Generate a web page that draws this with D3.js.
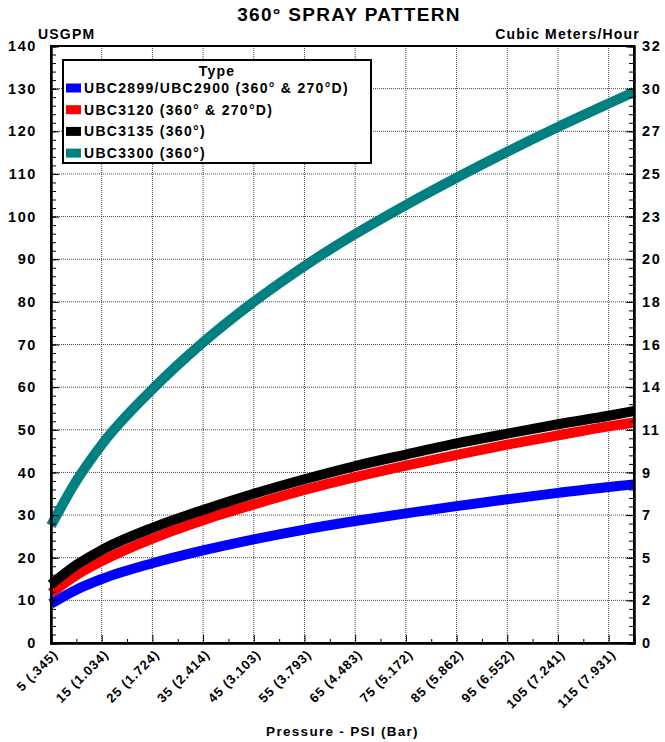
<!DOCTYPE html>
<html>
<head>
<meta charset="utf-8">
<script src="https://cdn.jsdelivr.net/npm/d3@7"></script>
<style>
  body { margin: 0; background: #fff; }
  svg text { font-family: "Liberation Sans", Arial, Helvetica, sans-serif; font-weight: bold; fill: #000; }
  .grid line { stroke: #444; stroke-width: 1; stroke-dasharray: 1,1; }
  .axis path, .axis line { stroke: #000; }
</style>
</head>
<body>
<div id="chart"></div>
<script>
/******************************************************************************/
/*  Data                                                                      */
/******************************************************************************/

// pressure in PSI, flow in USGPM
var pressure = [5, 10, 15, 25, 35, 45, 55, 65, 75, 85, 95, 105, 115, 120];
var ubc2899  = [9.2, 12.5, 15.0, 18.7, 21.7, 24.3, 26.6, 28.6, 30.4, 32.1, 33.7, 35.2, 36.6, 37.2];
var ubc3120  = [11.7, 15.9, 19.2, 24.5, 28.8, 32.5, 35.9, 38.9, 41.6, 44.1, 46.5, 48.7, 50.8, 51.7];
var ubc3135  = [13.7, 18.3, 21.8, 27.0, 31.2, 35.0, 38.4, 41.5, 44.2, 46.8, 49.1, 51.3, 53.3, 54.4];
var ubc3300  = [27.5, 38.0, 46.5, 59.5, 70.5, 80.0, 88.4, 95.9, 102.7, 109.1, 115.2, 121.0, 126.5, 129.2];

var seriesNames  = ['UBC2899/UBC2900 (360° & 270°D)', 'UBC3120 (360° & 270°D)', 'UBC3135 (360°)', 'UBC3300 (360°)'];
var seriesColors = ['#0000ff', '#ff0000', '#000000', '#008080'];

var xTicks      = [5, 15, 25, 35, 45, 55, 65, 75, 85, 95, 105, 115];
var xTickLabels = ['5 (.345)', '15 (1.034)', '25 (1.724)', '35 (2.414)', '45 (3.103)', '55 (3.793)',
                   '65 (4.483)', '75 (5.172)', '85 (5.862)', '95 (6.552)', '105 (7.241)', '115 (7.931)'];
var yTicks       = [0, 10, 20, 30, 40, 50, 60, 70, 80, 90, 100, 110, 120, 130, 140];
var yRightLabels = ['0', '2', '5', '7', '9', '11', '14', '16', '18', '20', '23', '25', '27', '30', '32'];

/******************************************************************************/
/*  Chart                                                                     */
/******************************************************************************/

var W = 665, H = 742;
var m = {left: 51, top: 46, right: 31, bottom: 99};
var w = W - m.left - m.right,
    h = H - m.top - m.bottom;

var svg = d3.select('#chart').append('svg')
    .attr('width', W)
    .attr('height', H);

var x = d3.scaleLinear().domain([5, 120]).range([0, w]);
var y = d3.scaleLinear().domain([0, 140]).range([h, 0]);

var g = svg.append('g').attr('transform', 'translate(' + m.left + ',' + m.top + ')');

// Grid
g.append('g').attr('class', 'grid')
  .selectAll('line').data(xTicks.slice(1))
  .enter().append('line')
    .attr('x1', function(d){ return x(d); })
    .attr('x2', function(d){ return x(d); })
    .attr('y1', 0).attr('y2', h);

g.append('g').attr('class', 'grid')
  .selectAll('line').data(yTicks.slice(1, -1))
  .enter().append('line')
    .attr('y1', function(d){ return y(d); })
    .attr('y2', function(d){ return y(d); })
    .attr('x1', 0).attr('x2', w);

// Curves
var allSeries = [ubc2899, ubc3120, ubc3135, ubc3300];
var line = d3.line()
    .x(function(d, i){ return x(pressure[i]); })
    .y(function(d){ return y(d); })
    .curve(d3.curveMonotoneX);

g.selectAll('path.flow').data(allSeries)
  .enter().append('path')
    .attr('class', 'flow')
    .attr('d', line)
    .attr('fill', 'none')
    .attr('stroke', function(d, i){ return seriesColors[i]; })
    .attr('stroke-width', 10);

// Axes (ticks point inward)
var minorY = d3.range(0, 141, 2);
var minorX = d3.range(10, 121, 10);

g.append('g').attr('class', 'axis')
  .call(d3.axisLeft(y).tickValues(minorY).tickSize(-5).tickFormat(''));
g.append('g').attr('class', 'axis')
  .call(d3.axisLeft(y).tickValues(yTicks).tickSize(-8).tickPadding(14))
  .selectAll('text')
    .style('font-size', '14.5px')
    .style('letter-spacing', '1.6px');

g.append('g').attr('class', 'axis')
  .attr('transform', 'translate(' + w + ',0)')
  .call(d3.axisRight(y).tickValues(minorY).tickSize(-5).tickFormat(''));
g.append('g').attr('class', 'axis')
  .attr('transform', 'translate(' + w + ',0)')
  .call(d3.axisRight(y).tickValues(yTicks).tickSize(-8).tickPadding(8)
          .tickFormat(function(d, i){ return yRightLabels[i]; }))
  .selectAll('text')
    .style('font-size', '14.5px')
    .style('letter-spacing', '1.6px');

g.append('g').attr('class', 'axis')
  .attr('transform', 'translate(0,' + h + ')')
  .call(d3.axisBottom(x).tickValues(minorX).tickSize(-4).tickFormat(''));
var xAxis = g.append('g').attr('class', 'axis')
  .attr('transform', 'translate(0,' + h + ')')
  .call(d3.axisBottom(x).tickValues(xTicks).tickSize(-8)
          .tickFormat(function(d, i){ return xTickLabels[i]; }));
xAxis.selectAll('text')
    .attr('y', 0).attr('dy', '0.35em')
    .attr('text-anchor', 'end')
    .attr('transform', 'translate(4,9) rotate(-45)')
    .style('font-size', '13px')
    .style('letter-spacing', '0.9px');

svg.selectAll('.axis path').attr('stroke-width', 2);

// Frame
g.append('rect')
    .attr('width', w).attr('height', h)
    .attr('fill', 'none')
    .attr('stroke', '#000')
    .attr('stroke-width', 2);

// Titles
svg.append('text')
    .attr('x', 349).attr('y', 21)
    .attr('text-anchor', 'middle')
    .style('font-size', '19px')
    .style('letter-spacing', '1.3px')
    .text('360° SPRAY PATTERN');

svg.append('text')
    .attr('x', 38).attr('y', 39)
    .style('font-size', '14px')
    .style('letter-spacing', '1.2px')
    .text('USGPM');

svg.append('text')
    .attr('x', 640).attr('y', 39)
    .attr('text-anchor', 'end')
    .style('font-size', '14px')
    .style('letter-spacing', '1.2px')
    .text('Cubic Meters/Hour');

svg.append('text')
    .attr('x', m.left + w / 2).attr('y', 736)
    .attr('text-anchor', 'middle')
    .style('font-size', '13.5px')
    .style('letter-spacing', '1.3px')
    .text('Pressure - PSI (Bar)');

// Legend
var lg = svg.append('g').attr('transform', 'translate(63,60)');
lg.append('rect')
    .attr('width', 308).attr('height', 103)
    .attr('fill', '#fff')
    .attr('stroke', '#000')
    .attr('stroke-width', 2);
lg.append('text')
    .attr('x', 154).attr('y', 16)
    .attr('text-anchor', 'middle')
    .style('font-size', '14px')
    .style('letter-spacing', '1.2px')
    .text('Type');

var items = lg.selectAll('g.item').data(seriesNames)
  .enter().append('g')
    .attr('class', 'item')
    .attr('transform', function(d, i){ return 'translate(3,' + (28 + i * 21.7) + ')'; });
items.append('rect')
    .attr('width', 15).attr('height', 9).attr('y', -4.5)
    .attr('fill', function(d, i){ return seriesColors[i]; });
items.append('text')
    .attr('x', 18).attr('dy', '0.36em')
    .style('font-size', '14px')
    .style('letter-spacing', '1.3px')
    .text(function(d){ return d; });
</script>
</body>
</html>
